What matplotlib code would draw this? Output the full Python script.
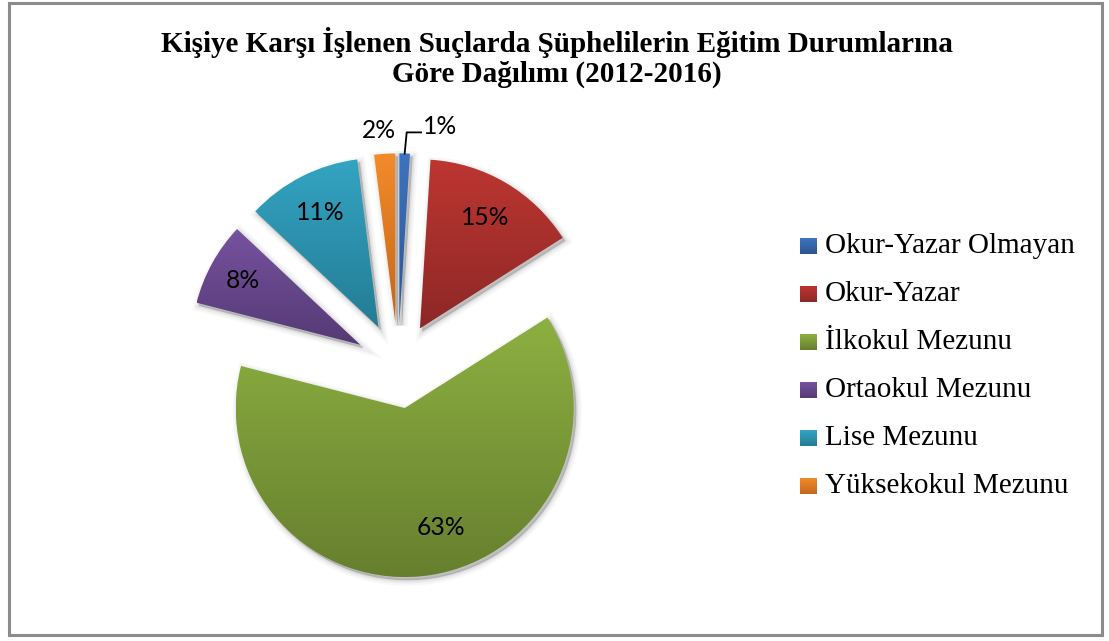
import numpy as np
import matplotlib
matplotlib.use("Agg")
import matplotlib.pyplot as plt
from matplotlib.patches import Wedge, Rectangle
from matplotlib.colors import LinearSegmentedColormap
from matplotlib.lines import Line2D

# ---- data ----
categories = ["Okur-Yazar Olmayan", "Okur-Yazar", "İlkokul Mezunu",
              "Ortaokul Mezunu", "Lise Mezunu", "Yüksekokul Mezunu"]
shares = [1, 15, 63, 8, 11, 2]
title_lines = ["Kişiye Karşı İşlenen Suçlarda Şüphelilerin Eğitim Durumlarına",
               "Göre Dağılımı (2012-2016)"]

# ---- styling ----
top_colors = ["#3d74bf", "#bd3631", "#8db041", "#77529f", "#33a4c3", "#f28b2b"]
bot_colors = ["#2b5690", "#8d2826", "#667f2e", "#543a74", "#247c94", "#c5661b"]
# label placement: (distance from slice centre as fraction of radius, angle shift in deg)
label_place = [None, (0.76, 0), (0.74, 8), (0.79, 0), (0.76, 0), (1.14, 1.2)]

W, H, DPI = 1109, 641, 100
CX, CY, R = 398.0, 365.5, 169.0     # pie centre and radius in pixels

fig = plt.figure(figsize=(W / DPI, H / DPI), dpi=DPI)
ax = fig.add_axes([0, 0, 1, 1])


def px(x, y):
    """pixel position (origin top-left) -> data coordinates"""
    return (x - CX) / R, (CY - y) / R


wedges, texts, autotexts = ax.pie(
    shares, explode=[0.255] * len(shares), startangle=90, counterclock=False,
    radius=1.0, autopct=lambda p: f"{p:.0f}%", pctdistance=0.76,
    wedgeprops=dict(linewidth=0),
    textprops=dict(family="Lato", fontsize=17.7, color="black"))


def fill_gradient(patch, c_top, c_bot, zorder):
    bb = patch.get_path().get_extents(patch.get_patch_transform())
    cmap = LinearSegmentedColormap.from_list("g", [c_bot, c_top])
    grad = np.linspace(1, 0, 256).reshape(-1, 1)
    im = ax.imshow(grad, cmap=cmap, vmin=0, vmax=1, aspect="auto",
                   extent=(bb.x0, bb.x1, bb.y0, bb.y1), origin="upper",
                   interpolation="bilinear", zorder=zorder)
    im.set_clip_path(patch)
    patch.set_facecolor("none")


for i, w in enumerate(wedges):
    # soft drop shadow
    dx, dy = 2.5 / R, -3.0 / R
    for lw, a in [(8, 0.03), (5, 0.04), (2.5, 0.055), (0.5, 0.07)]:
        sh = Wedge((w.center[0] + dx, w.center[1] + dy), w.r, w.theta1, w.theta2,
                   facecolor=(0, 0, 0, a), edgecolor=(0, 0, 0, a),
                   linewidth=lw, zorder=1)
        ax.add_patch(sh)
    w.set_zorder(3)
    fill_gradient(w, top_colors[i], bot_colors[i], zorder=2)

# ---- percentage labels ----
for i, (w, t) in enumerate(zip(wedges, autotexts)):
    t.set_zorder(5)
    mid = np.deg2rad((w.theta1 + w.theta2) / 2)
    if label_place[i] is None:
        continue
    dist, shift = label_place[i]
    ang = mid + np.deg2rad(shift)
    t.set_position((w.center[0] + dist * np.cos(ang),
                    w.center[1] + dist * np.sin(ang)))

# smallest slice: label outside with a leader line
w0 = wedges[0]
mid0 = np.deg2rad((w0.theta1 + w0.theta2) / 2)
tip = (w0.center[0] + 1.0 * np.cos(mid0), w0.center[1] + 1.0 * np.sin(mid0))
elbow = (tip[0] + 0.012, tip[1] + 0.125)
end = (elbow[0] + 0.085, elbow[1])
ax.add_line(Line2D([tip[0], elbow[0], end[0]], [tip[1], elbow[1], end[1]],
                   color="black", linewidth=1.3, zorder=5))
autotexts[0].set_position((end[0] + 0.01, end[1] + 0.035))
autotexts[0].set_ha("left")

# ---- title ----
for k, line in enumerate(title_lines):
    fig.text(557 / W, 1 - (43 + 31 * k) / H, line, ha="center", va="center",
             family="Liberation Serif", fontweight="bold", fontsize=21)

# ---- legend ----
for i, name in enumerate(categories):
    yc = 246 + 48 * i
    x0, y0 = px(800, yc + 8)
    x1, y1 = px(817, yc - 8)
    sq = Rectangle((x0, y0), x1 - x0, y1 - y0, facecolor="none",
                   edgecolor="none", zorder=3)
    ax.add_patch(sq)
    fill_gradient(sq, top_colors[i], bot_colors[i], zorder=2)
    tx, ty = px(825, yc)
    ax.text(tx, ty, name, ha="left", va="center", family="Liberation Serif",
            fontsize=21, zorder=5)

# ---- outer frame ----
fx0, fy0 = px(9, 635)
fx1, fy1 = px(1102, 3)
ax.add_patch(Rectangle((fx0, fy0), fx1 - fx0, fy1 - fy0, facecolor="none",
                       edgecolor="#8c8c8c", linewidth=2.2, zorder=6,
                       clip_on=False))

ax.set_xlim(-CX / R, (W - CX) / R)
ax.set_ylim(-(H - CY) / R, CY / R)
ax.set_aspect("auto")
ax.axis("off")

fig.savefig("out.png", dpi=DPI, facecolor="white")
